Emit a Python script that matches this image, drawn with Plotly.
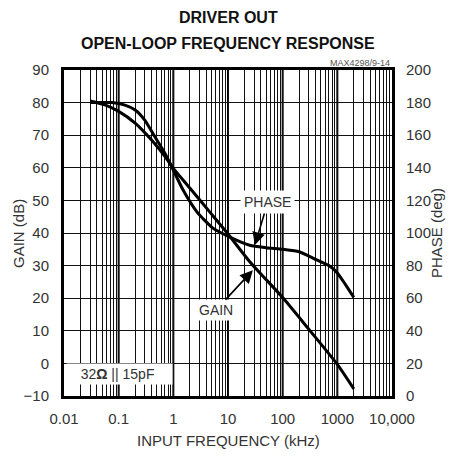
import numpy as np
import plotly.graph_objects as go

# ---- data ----
gain_freq_khz = [0.03, 0.056, 0.1, 0.2, 0.4, 0.7, 1, 2, 5, 10, 25, 100, 300, 1000, 2000]
gain_db = [80.5, 79.3, 77.3, 73.7, 68.5, 63.5, 59.8, 53.8, 45.8, 39.7, 31.2, 20.2, 10.5, -0.3, -7.8]

phase_freq_khz = [0.03, 0.075, 0.13, 0.2, 0.3, 0.46, 0.7, 0.94, 1.5, 2.7, 5.3, 10.8,
                  25, 50, 100, 200, 420, 700, 1000, 1400, 2000]
phase_deg = [180, 180, 178.5, 175.5, 169.3, 159, 149, 140.5, 126.5, 113, 103, 97.5,
             92.5, 91, 90, 88.5, 83.5, 80, 75.5, 68.5, 60.5]

decades = [0.01, 0.1, 1, 10, 100, 1000, 10000]
decade_labels = ["0.01", "0.1", "1", "10", "100", "1000", "10,000"]
gain_ticks = list(range(-10, 91, 10))
phase_ticks = list(range(0, 201, 20))

FONT = "Liberation Sans, Arial, sans-serif"
TXT = "#333333"

# x tick positions: every 1..9 multiple of each decade
xt_vals, xt_text = [], []
for d, lab in zip(decades[:-1], decade_labels[:-1]):
    for m in range(1, 10):
        xt_vals.append(d * m)
        xt_text.append(lab if m == 1 else "")
xt_vals.append(decades[-1])
xt_text.append(decade_labels[-1])

fig = go.Figure()
fig.add_trace(go.Scatter(x=gain_freq_khz, y=gain_db, mode="lines",
                         line=dict(color="black", width=3, shape="spline", smoothing=0.6),
                         showlegend=False, yaxis="y"))
fig.add_trace(go.Scatter(x=phase_freq_khz, y=phase_deg, mode="lines",
                         line=dict(color="black", width=3, shape="spline", smoothing=0.6),
                         showlegend=False, yaxis="y2"))

# thicker decade grid lines
for d in decades[1:-1]:
    fig.add_shape(type="line", xref="x", yref="paper", x0=d, x1=d, y0=0, y1=1,
                  line=dict(color="black", width=2), layer="between")

tickfont = dict(size=15, color=TXT, family=FONT)
fig.update_layout(
    width=449, height=458,
    margin=dict(l=64, r=57, t=70, b=62, autoexpand=False),
    paper_bgcolor="white", plot_bgcolor="white",
    font=dict(family=FONT, color=TXT, size=15),
    xaxis=dict(type="log", range=[-2, 4], tickvals=xt_vals, ticktext=xt_text,
               showgrid=True, gridcolor="#111", gridwidth=1,
               ticks="outside", ticklen=7, tickcolor="rgba(0,0,0,0)",
               showline=True, linecolor="black", linewidth=3, mirror=True,
               tickfont=tickfont, automargin=False, zeroline=False),
    yaxis=dict(range=[-10, 90], tickvals=gain_ticks,
               showgrid=True, gridcolor="#111", gridwidth=1,
               ticks="outside", ticklen=9, tickcolor="rgba(0,0,0,0)",
               showline=True, linecolor="black", linewidth=3,
               tickfont=tickfont, zeroline=False, automargin=False),
    yaxis2=dict(range=[0, 200], tickvals=phase_ticks, overlaying="y", side="right",
                showgrid=False, ticks="outside", ticklen=8, tickcolor="rgba(0,0,0,0)",
                showline=True, linecolor="black", linewidth=3,
                tickfont=tickfont, zeroline=False, automargin=False),
)

annotations = [
    dict(text="<b>DRIVER OUT</b>", xref="paper", yref="paper", x=0.5, y=1, yshift=53,
         xanchor="center", yanchor="middle", showarrow=False,
         font=dict(size=16, color="#111", family=FONT)),
    dict(text="<b>OPEN-LOOP FREQUENCY RESPONSE</b>", xref="paper", yref="paper", x=0.5, y=1,
         yshift=27, xanchor="center", yanchor="middle", showarrow=False,
         font=dict(size=16, color="#111", family=FONT)),
    dict(text="MAX4298/9-14", xref="paper", yref="paper", x=1, y=1, xanchor="right",
         yanchor="bottom", yshift=0, showarrow=False, font=dict(size=9, color="#555", family=FONT)),
    # axis titles
    dict(text="GAIN (dB)", xref="paper", yref="paper", x=(18 - 64) / 328, y=0.5,
         textangle=-90, showarrow=False, xanchor="center", yanchor="middle",
         font=dict(size=15, color=TXT, family=FONT)),
    dict(text="PHASE (deg)", xref="paper", yref="paper", x=(436 - 64) / 328, y=0.5,
         textangle=-90, showarrow=False, xanchor="center", yanchor="middle",
         font=dict(size=15, color=TXT, family=FONT)),
    dict(text="INPUT FREQUENCY (kHz)", xref="paper", yref="paper", x=0.5, y=(396 - 440) / 326,
         showarrow=False, xanchor="center", yanchor="middle",
         font=dict(size=15, color=TXT, family=FONT)),
    # curve labels
    dict(text="PHASE", x=np.log10(31), y=36.3, xref="x", yref="y", ax=13, ay=-43,
         showarrow=True, arrowhead=2, arrowsize=1.6, arrowwidth=1.6, arrowcolor="black",
         bgcolor="white", borderpad=3, font=dict(size=14, color=TXT, family=FONT)),
    dict(text="GAIN", x=np.log10(28.5), y=28.6, xref="x", yref="y", ax=-37, ay=40,
         showarrow=True, arrowhead=2, arrowsize=1.6, arrowwidth=1.6, arrowcolor="black",
         bgcolor="white", borderpad=2, font=dict(size=14, color=TXT, family=FONT)),
    dict(text="&nbsp;&nbsp;&nbsp;32<b>Ω</b> || 15pF&nbsp;&nbsp;&nbsp;&nbsp;", xref="paper", yref="paper",
         x=0.005, y=0.035, xanchor="left", yanchor="bottom", showarrow=False,
         bgcolor="white", borderpad=2, font=dict(size=14, color=TXT, family=FONT)),
]
fig.update_layout(annotations=annotations)

fig.write_html("out.html", config={"displayModeBar": False},
               post_script="document.body.style.margin='0';")
